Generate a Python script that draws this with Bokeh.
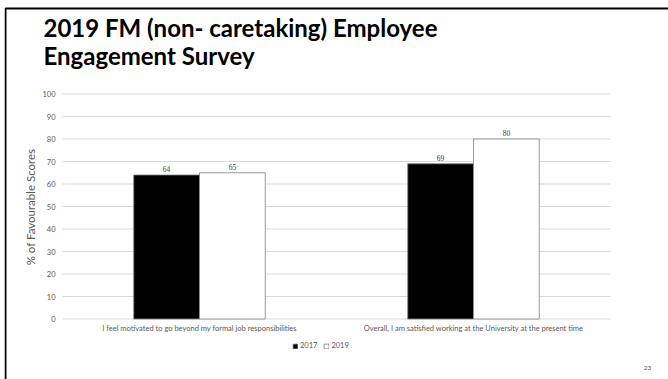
from bokeh.plotting import figure
from bokeh.models import (ColumnDataSource, FactorRange, Range1d, Label, LabelSet,
                          Legend, LegendItem, BoxAnnotation)
from bokeh.transform import dodge
from bokeh.embed import file_html
from bokeh.resources import INLINE

categories = ["I feel motivated to go beyond my formal job responsibilities",
              "Overall, I am satisfied working at the University at the present time"]
series_names = ["2017", "2019"]
values_2017 = [64, 69]
values_2019 = [65, 80]
y_ticks = [0, 10, 20, 30, 40, 50, 60, 70, 80, 90, 100]
title_lines = ["2019 FM (non- caretaking) Employee", "Engagement Survey"]
y_label = "% of Favourable Scores"
page_number = "23"

FONT = "Lato"
TXT = "#595959"

W, H = 668, 379
LEFT_PAD = 4
# plot area in page pixels: x 62..610, y 93.5 (100) .. 318.5 (0)
PX_PER_CAT = 274.0
PX_PER_UNIT = 2.25
pad_units = 58.0 / PX_PER_CAT
y_start = -(H - 318.5) / PX_PER_UNIT
y_end = 100 + 93.5 / PX_PER_UNIT

src = ColumnDataSource(data=dict(cat=categories, v2017=values_2017, v2019=values_2019,
                                 l2017=[str(v) for v in values_2017],
                                 l2019=[str(v) for v in values_2019]))
grid_src = ColumnDataSource(data=dict(y=y_ticks, x0=[0.0] * len(y_ticks),
                                      x1=[float(len(categories))] * len(y_ticks)))

p = figure(width=W, height=H, output_backend="svg", toolbar_location=None,
           x_range=FactorRange(factors=categories, range_padding=pad_units,
                               range_padding_units="absolute"),
           y_range=Range1d(y_start, y_end),
           min_border_left=LEFT_PAD, min_border_right=0, min_border_top=0, min_border_bottom=0)
p.outline_line_color = None
p.background_fill_color = "white"
p.border_fill_color = "white"
p.xgrid.grid_line_color = None
p.ygrid.grid_line_color = None

# horizontal gridlines limited to the plot area
p.segment(x0="x0", x1="x1", y0="y", y1="y", source=grid_src, line_color="#d9d9d9", line_width=1)

bw = 0.24
r1 = p.vbar(x=dodge("cat", -bw / 2, range=p.x_range), top="v2017", width=bw, source=src,
            fill_color="black", line_color="#7f7f7f", line_width=0.8)
r2 = p.vbar(x=dodge("cat", bw / 2, range=p.x_range), top="v2019", width=bw, source=src,
            fill_color="white", line_color="#7f7f7f", line_width=0.8)

for col, lab, off in (("v2017", "l2017", -bw / 2), ("v2019", "l2019", bw / 2)):
    p.add_layout(LabelSet(x=dodge("cat", off, range=p.x_range), y=col, text=lab, source=src,
                          text_align="center", text_baseline="bottom", y_offset=3,
                          text_font=FONT, text_font_size="7.5px", text_color="#404040"))

p.yaxis.fixed_location = 0
p.yaxis.bounds = (y_ticks[0], y_ticks[-1])
p.yaxis.ticker = y_ticks
p.yaxis.axis_line_color = None
p.yaxis.major_tick_line_color = None
p.yaxis.minor_tick_line_color = None
p.yaxis.major_tick_out = 0
p.yaxis.major_tick_in = 0
p.yaxis.major_label_text_font = FONT
p.yaxis.major_label_text_font_size = "7.5px"
p.yaxis.major_label_text_color = TXT
p.yaxis.major_label_standoff = 7
p.yaxis.axis_label = y_label
p.yaxis.axis_label_text_font = FONT
p.yaxis.axis_label_text_font_style = "normal"
p.yaxis.axis_label_text_font_size = "11.5px"
p.yaxis.axis_label_text_color = TXT
p.yaxis.axis_label_standoff = 2

p.xaxis.fixed_location = 0
p.xaxis.axis_line_color = None
p.xaxis.major_tick_line_color = None
p.xaxis.minor_tick_line_color = None
p.xaxis.major_tick_out = 0
p.xaxis.major_tick_in = 0
p.xaxis.major_label_text_font = FONT
p.xaxis.major_label_text_font_size = "7.5px"
p.xaxis.major_label_text_color = TXT
p.xaxis.major_label_standoff = 5

legend = Legend(items=[LegendItem(label=series_names[0], renderers=[r1]),
                       LegendItem(label=series_names[1], renderers=[r2])],
                orientation="horizontal", location=(288, 29),
                label_text_font=FONT, label_text_font_size="7.5px", label_text_color=TXT,
                glyph_width=6, glyph_height=6, label_standoff=2, spacing=6,
                padding=0, margin=0, border_line_color=None, background_fill_alpha=0,
                label_height=8, label_width=10)
p.add_layout(legend, "center")

# slide frame and texts (screen units)
p.add_layout(BoxAnnotation(left=1, right=720, top=H - 8, bottom=-50, left_units="screen",
                           right_units="screen", top_units="screen", bottom_units="screen",
                           fill_alpha=0, line_color="black", line_alpha=1.0, line_width=2))
p.add_layout(Label(x=39, y=H - 12, x_units="screen", y_units="screen", text=title_lines[0],
                   text_font=FONT, text_font_style="bold", text_font_size="24px",
                   text_color="black", text_baseline="top"))
p.add_layout(Label(x=39, y=H - 40, x_units="screen", y_units="screen", text=title_lines[1],
                   text_font=FONT, text_font_style="bold", text_font_size="24px",
                   text_color="black", text_baseline="top"))
p.add_layout(Label(x=643, y=12, x_units="screen", y_units="screen", text=page_number,
                   text_font=FONT, text_font_size="6.5px", text_color=TXT,
                   text_align="center", text_baseline="middle"))

open("out.html", "w").write(file_html(p, INLINE))
